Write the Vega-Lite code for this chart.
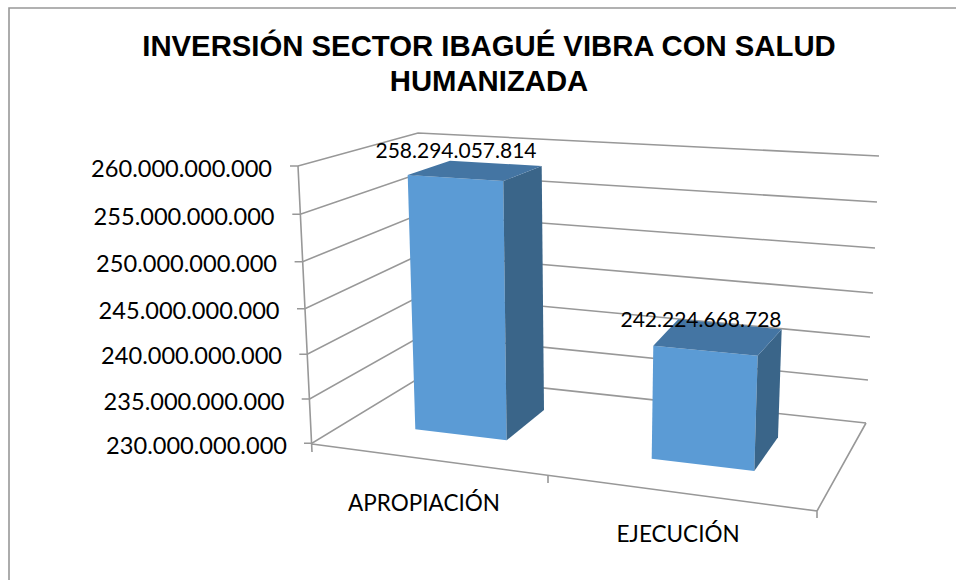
{
"$schema":"https://vega.github.io/schema/vega-lite/v6.json",
"width":956,"height":580,"padding":0,"autosize":{"type":"none"},
"background":"white",
"config":{"view":{"stroke":null},"locale":{"number":{"decimal":",","thousands":".","grouping":[3],"currency":["$",""]}}},
"title":{"text":["INVERSIÓN SECTOR IBAGUÉ VIBRA CON SALUD","HUMANIZADA"],"font":"Liberation Sans","fontWeight":"bold","fontSize":29.3,"lineHeight":35,"color":"#000000","anchor":"middle","dx":11,"dy":97,"offset":0},
"datasets":{
"bars":[{"category":"APROPIACIÓN","value":258294057814},{"category":"EJECUCIÓN","value":242224668728}],
"ticks":[{"value":230000000000},{"value":235000000000},{"value":240000000000},{"value":245000000000},{"value":250000000000},{"value":255000000000},{"value":260000000000}]
},
"layer":[
{"data":{"name":"ticks"},
"mark":{"type":"point","filled":false,"size":4,"opacity":1,"stroke":"#989898","strokeWidth":1.6},
"encoding":{
"y":{"field":"value","type":"quantitative","axis":null,"scale":{"domain":[215360000000,278260000000],"range":[580,0],"nice":false,"zero":false}},
"shape":{"field":"value","type":"nominal","legend":null,"scale":{"domain":[230000000000,235000000000,240000000000,245000000000,250000000000,255000000000,260000000000],
"range":["M-174,-1.7L-166,-1.7L-54,-70L388,-22","M-176.3,0.1L-168.3,0.1L-55,-63.9L390,-18.9","M-178.7,1.5L-170.7,1.5L-56,-57.8L392,-15.8","M-181,2L-173,2L-57,-52.7L395,-13.7","M-183.4,1.1L-175.4,1.1L-58,-46.6L397,-12.6","M-185.7,-0.2L-177.7,-0.2L-59,-41L399,-12.5","M-188,-2.4L-180,-2.4L-60,-35.4L401,-12.4"]}}
}},
{"data":{"name":"ticks"},"transform":[{"filter":"datum.value==230000000000"}],
"mark":{"type":"point","filled":false,"size":4,"opacity":1,"stroke":"#989898","strokeWidth":1.6,
"shape":"M-180,-279L-166,7M-166,-1L339,66L339,73M339,66L388,-22M70,31L70,38M478,-437L-469,-437L-469,135"},
"encoding":{"y":{"field":"value","type":"quantitative"}}},
{"data":{"name":"ticks"},
"mark":{"type":"text","font":"Lato","fontSize":23.6,"color":"#000000","align":"right","baseline":"middle",
"dx":{"expr":"-206+(260000000000-datum.value)/30000000000*15"},
"dy":{"expr":"2+3*(1-pow((datum.value-245000000000)/15000000000,2))"}},
"encoding":{
"y":{"field":"value","type":"quantitative"},
"text":{"field":"value","type":"quantitative","format":",.0f"}
}},
{"data":{"name":"bars"},
"mark":{"type":"point","filled":true,"size":4,"opacity":1,"fill":"#5b9bd5","stroke":null},
"encoding":{
"x":{"field":"category","type":"nominal","sort":null,"axis":null,"scale":{"type":"point","domain":["APROPIACIÓN","EJECUCIÓN"],"range":[424,678],"padding":0}},
"y":{"field":"value","type":"quantitative"},
"shape":{"field":"category","type":"nominal","legend":null,"scale":{"domain":["APROPIACIÓN","EJECUCIÓN"],"range":["M-16.3,-9.1L79.3,-3.1L82.7,256.2L-8.7,245.2Z","M-24.7,13.4L79.7,23.4L76.3,138.7L-26.3,126.4Z"]}}
}},
{"data":{"name":"bars"},
"mark":{"type":"point","filled":true,"size":4,"opacity":1,"fill":"#3a6589","stroke":null},
"encoding":{
"x":{"field":"category","type":"nominal"},
"y":{"field":"value","type":"quantitative"},
"shape":{"field":"category","type":"nominal","legend":null,"scale":{"domain":["APROPIACIÓN","EJECUCIÓN"],"range":["M79.3,-3.1L117.7,-18.1L120,225.9L82.7,256.2Z","M79.7,23.4L103.7,-3L100,105L76.3,138.7Z"]}}
}},
{"data":{"name":"bars"},
"mark":{"type":"point","filled":true,"size":4,"opacity":1,"fill":"#4475a3","stroke":null},
"encoding":{
"x":{"field":"category","type":"nominal"},
"y":{"field":"value","type":"quantitative"},
"shape":{"field":"category","type":"nominal","legend":null,"scale":{"domain":["APROPIACIÓN","EJECUCIÓN"],"range":["M-16.3,-9.1L26,-23.4L117.7,-18.1L79.3,-3.1Z","M-24.7,13.4L0.3,-13L103.7,-3L79.7,23.4Z"]}}
}},
{"data":{"name":"bars"},
"mark":{"type":"text","font":"Lato","fontSize":21,"color":"#000000","baseline":"middle","align":"center","dx":{"expr":"datum.category==='EJECUCIÓN'?23:32"},"dy":{"expr":"datum.category==='EJECUCIÓN'?-11:-32"}},
"encoding":{
"x":{"field":"category","type":"nominal"},
"y":{"field":"value","type":"quantitative"},
"text":{"field":"value","type":"quantitative","format":",.0f"}
}},
{"data":{"name":"bars"},
"mark":{"type":"text","font":"Lato","fontSize":22.5,"color":"#000000","baseline":"middle","align":"center","dy":{"expr":"datum.category==='EJECUCIÓN'?245:214"}},
"encoding":{
"x":{"field":"category","type":"nominal"},
"text":{"field":"category","type":"nominal"}
}}
],
"resolve":{"scale":{"shape":"independent"}}
}
